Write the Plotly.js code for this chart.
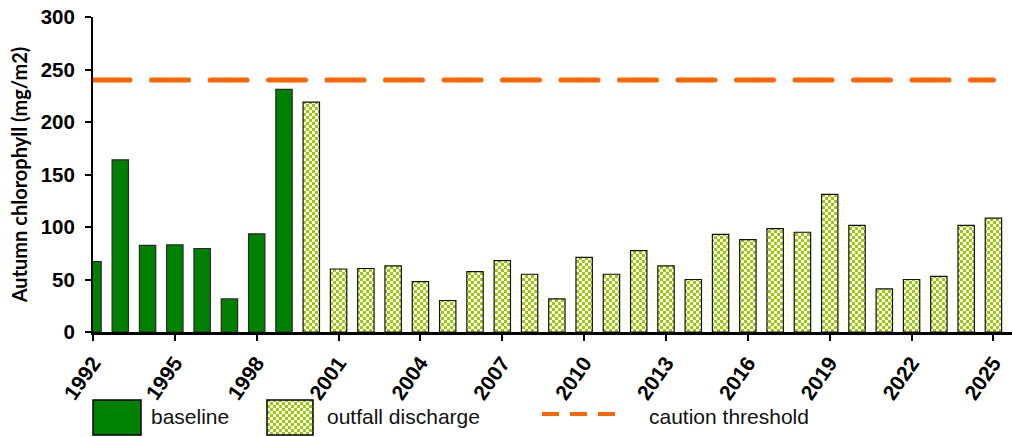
<!DOCTYPE html>
<html>
<head>
<meta charset="utf-8">
<script src="https://cdn.plot.ly/plotly-3.0.1.min.js"></script>
<style>
  html, body { margin: 0; padding: 0; background: #fff; }
  #chart { width: 1012px; height: 437px; }
</style>
</head>
<body>
<div id="chart"></div>
<script>
// ---- data ----
const BASELINE_YEARS  = [1992, 1993, 1994, 1995, 1996, 1997, 1998, 1999];
const BASELINE_VALUES = [67, 164, 82.5, 83, 79.5, 31.5, 93.5, 231];

const OUTFALL_YEARS  = [2000, 2001, 2002, 2003, 2004, 2005, 2006, 2007, 2008, 2009,
                        2010, 2011, 2012, 2013, 2014, 2015, 2016, 2017, 2018, 2019,
                        2020, 2021, 2022, 2023, 2024, 2025];
const OUTFALL_VALUES = [219, 60, 60.5, 63, 48, 30, 57.5, 68, 55, 31.5,
                        71, 55, 77.5, 63, 50, 93, 88, 98.5, 95, 131,
                        101.5, 41, 50, 53, 101.5, 108.5];

const THRESHOLD_YEARS  = [1992, 2025];
const THRESHOLD_VALUES = [240, 240];

const SERIES_NAMES = ['baseline', 'outfall discharge', 'caution threshold'];
const Y_TITLE = 'Autumn chlorophyll (mg/m2)';

// ---- styles ----
const GREEN = '#008000';
const CHECK_KEY = 'rgb(153, 204, 1)';   // placeholder colour, replaced by checker pattern
const ORANGE = '#FF6600';
const FONT = 'Liberation Sans, Arial, sans-serif';

const W = 1012, H = 437;
const M = { l: 93, r: 0, t: 17, b: 105 };
const px2x = px => (px - M.l) / (W - M.l - M.r);
const py2y = py => (H - M.b - py) / (H - M.t - M.b);

const traces = [
  {
    type: 'bar', name: SERIES_NAMES[0],
    x: BASELINE_YEARS, y: BASELINE_VALUES, width: 0.6,
    marker: { color: GREEN, line: { color: '#2a2a2a', width: 1.2 } },
    hoverinfo: 'x+y'
  },
  {
    type: 'bar', name: SERIES_NAMES[1],
    x: OUTFALL_YEARS, y: OUTFALL_VALUES, width: 0.6,
    marker: { color: CHECK_KEY, line: { color: '#111', width: 1.2 } },
    hoverinfo: 'x+y'
  },
  {
    type: 'scatter', mode: 'lines', name: SERIES_NAMES[2],
    x: THRESHOLD_YEARS, y: THRESHOLD_VALUES,
    line: { color: ORANGE, width: 5, dash: '37px,21.5px' },
    hoverinfo: 'y'
  }
];

const legendFont = { family: FONT, size: 21, color: '#111' };
const layout = {
  width: W, height: H,
  margin: M,
  paper_bgcolor: '#fff', plot_bgcolor: '#fff',
  showlegend: false,
  barmode: 'overlay',
  xaxis: {
    range: [1992, 2025.68],
    tick0: 1992, dtick: 3,
    tickangle: -55,
    ticks: 'outside', ticklen: 6, tickwidth: 2, tickcolor: '#000',
    ticklabelstandoff: 2,
    showline: true, linecolor: '#000', linewidth: 2.5,
    showgrid: false, zeroline: false,
    tickfont: { family: FONT, size: 21, color: '#000', weight: 'bold' }
  },
  yaxis: {
    range: [0, 300], dtick: 50,
    ticks: 'outside', ticklen: 6, tickwidth: 2, tickcolor: '#000',
    ticklabelstandoff: 6,
    showline: true, linecolor: '#000', linewidth: 2,
    showgrid: false, zeroline: false,
    tickfont: { family: FONT, size: 20.5, color: '#000', weight: 'bold' },
    title: { text: Y_TITLE, font: { family: 'Lato, sans-serif', size: 20, color: '#000', weight: 'bold' }, standoff: 8 }
  },
  shapes: [
    { type: 'rect', xref: 'paper', yref: 'paper', layer: 'above',
      x0: px2x(93), x1: px2x(141), y0: py2y(435), y1: py2y(400),
      fillcolor: GREEN, line: { color: '#000', width: 1.5 } },
    { type: 'rect', xref: 'paper', yref: 'paper', layer: 'above',
      x0: px2x(267), x1: px2x(313), y0: py2y(435), y1: py2y(400),
      fillcolor: CHECK_KEY, line: { color: '#000', width: 1.5 } },
    { type: 'line', xref: 'paper', yref: 'paper', layer: 'above',
      x0: px2x(542), x1: px2x(615), y0: py2y(414), y1: py2y(414),
      line: { color: ORANGE, width: 4, dash: '17px,11px' } }
  ],
  annotations: [
    { xref: 'paper', yref: 'paper', x: px2x(149), y: py2y(416), xanchor: 'left', yanchor: 'middle',
      text: SERIES_NAMES[0], showarrow: false, font: legendFont },
    { xref: 'paper', yref: 'paper', x: px2x(325), y: py2y(416), xanchor: 'left', yanchor: 'middle',
      text: SERIES_NAMES[1], showarrow: false, font: legendFont },
    { xref: 'paper', yref: 'paper', x: px2x(647), y: py2y(416), xanchor: 'left', yanchor: 'middle',
      text: SERIES_NAMES[2], showarrow: false, font: legendFont }
  ]
};

function applyChecker(gd) {
  const NS = 'http://www.w3.org/2000/svg';
  const svg = gd.querySelector('svg.main-svg');
  if (!svg) return;
  let defs = svg.querySelector('defs');
  if (!defs) { defs = document.createElementNS(NS, 'defs'); svg.insertBefore(defs, svg.firstChild); }
  const pat = document.createElementNS(NS, 'pattern');
  pat.setAttribute('id', 'checker3');
  pat.setAttribute('patternUnits', 'userSpaceOnUse');
  pat.setAttribute('width', '6');
  pat.setAttribute('height', '6');
  const mk = (x, y, w, h, c) => {
    const r = document.createElementNS(NS, 'rect');
    r.setAttribute('x', x); r.setAttribute('y', y);
    r.setAttribute('width', w); r.setAttribute('height', h);
    r.setAttribute('fill', c);
    pat.appendChild(r);
  };
  mk(0, 0, 6, 6, '#ffffff');
  mk(0, 0, 3, 3, '#99cc00');
  mk(3, 3, 3, 3, '#99cc00');
  defs.appendChild(pat);
  const key = CHECK_KEY.replace(/\s/g, '');
  gd.querySelectorAll('path').forEach(p => {
    const f = (p.style.fill || p.getAttribute('fill') || '').replace(/\s/g, '');
    if (f === key) p.style.fill = 'url(#checker3)';
  });
  gd.querySelectorAll('.scatterlayer .js-line').forEach(p => { p.style.strokeLinecap = 'round'; });
}

const gd = document.getElementById('chart');
Plotly.newPlot(gd, traces, layout, { staticPlot: true, displayModeBar: false })
  .then(() => applyChecker(gd));
</script>
</body>
</html>
